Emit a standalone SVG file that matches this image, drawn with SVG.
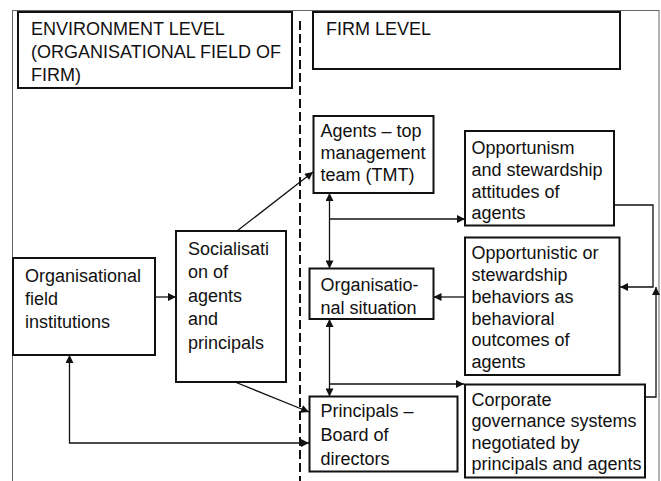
<svg xmlns="http://www.w3.org/2000/svg" width="661" height="481" viewBox="0 0 661 481">
  <style>
    .box { fill: #fff; stroke: #111; stroke-width: 2; }
    .lbl { font-family: "Liberation Sans", Arial, sans-serif; font-size: 18px; fill: #111; }
    .wire { fill: none; stroke: #111; stroke-width: 1.3; }
    .frame { fill: none; stroke: #666; stroke-width: 1; }
    .divider { stroke: #111; stroke-width: 2; stroke-dasharray: 9 4; }
  </style>
  <defs>
    <marker id="arrow" viewBox="0 0 10 10" refX="10" refY="5" markerWidth="10" markerHeight="8" markerUnits="userSpaceOnUse" orient="auto-start-reverse">
      <path d="M0,0 L10,5 L0,10 Z" fill="#111"/>
    </marker>
  </defs>

  <rect width="661" height="481" fill="#fff"/>

  <!-- outer frame -->
  <rect class="frame" x="12.5" y="10.5" width="646.5" height="480"/>

  <!-- level divider -->
  <line class="divider" x1="300" y1="21" x2="300" y2="481"/>

  <g id="environment-level">
    <rect class="box" x="18" y="12" width="274" height="76"/>
    <text class="lbl" x="31" y="35">ENVIRONMENT LEVEL</text>
    <text class="lbl" x="31" y="58">(ORGANISATIONAL FIELD OF</text>
    <text class="lbl" x="31" y="81">FIRM)</text>
  </g>

  <g id="firm-level">
    <rect class="box" x="313" y="12" width="307" height="57"/>
    <text class="lbl" x="326" y="35">FIRM LEVEL</text>
  </g>

  <g id="field-institutions">
    <rect class="box" x="13" y="258" width="142" height="97"/>
    <text class="lbl" x="25" y="282">Organisational</text>
    <text class="lbl" x="25" y="305">field</text>
    <text class="lbl" x="25" y="328">institutions</text>
  </g>

  <g id="socialisation">
    <rect class="box" x="176" y="231" width="110" height="151"/>
    <text class="lbl" x="188" y="254.5">Socialisati</text>
    <text class="lbl" x="188" y="278">on of</text>
    <text class="lbl" x="188" y="301.5">agents</text>
    <text class="lbl" x="188" y="325">and</text>
    <text class="lbl" x="188" y="348.5">principals</text>
  </g>

  <g id="agents">
    <rect class="box" x="313.5" y="116" width="120" height="77"/>
    <text class="lbl" x="320.5" y="137">Agents – top</text>
    <text class="lbl" x="320.5" y="159">management</text>
    <text class="lbl" x="320.5" y="181">team (TMT)</text>
  </g>

  <g id="org-situation">
    <rect class="box" x="309.5" y="268.5" width="124" height="50.5"/>
    <text class="lbl" x="320.5" y="291">Organisatio-</text>
    <text class="lbl" x="320.5" y="314">nal situation</text>
  </g>

  <g id="principals">
    <rect class="box" x="309.5" y="396.5" width="148" height="75"/>
    <text class="lbl" x="320.5" y="417">Principals –</text>
    <text class="lbl" x="320.5" y="441">Board of</text>
    <text class="lbl" x="320.5" y="465">directors</text>
  </g>

  <g id="attitudes">
    <rect class="box" x="465" y="131" width="149" height="94.5"/>
    <text class="lbl" x="471.5" y="154">Opportunism</text>
    <text class="lbl" x="471.5" y="176">and stewardship</text>
    <text class="lbl" x="471.5" y="197.5">attitudes of</text>
    <text class="lbl" x="471.5" y="219">agents</text>
  </g>

  <g id="behaviors">
    <rect class="box" x="465" y="237.5" width="154.5" height="137.5"/>
    <text class="lbl" x="471.5" y="258.5">Opportunistic or</text>
    <text class="lbl" x="471.5" y="280.5">stewardship</text>
    <text class="lbl" x="471.5" y="302.5">behaviors as</text>
    <text class="lbl" x="471.5" y="324.5">behavioral</text>
    <text class="lbl" x="471.5" y="346">outcomes of</text>
    <text class="lbl" x="471.5" y="368">agents</text>
  </g>

  <g id="governance">
    <rect class="box" x="465" y="384.5" width="180" height="93"/>
    <text class="lbl" x="471.5" y="405.5">Corporate</text>
    <text class="lbl" x="471.5" y="427">governance systems</text>
    <text class="lbl" x="471.5" y="448.5">negotiated by</text>
    <text class="lbl" x="471.5" y="470">principals and agents</text>
  </g>

  <g id="connectors">
    <line class="wire" x1="155" y1="297" x2="176" y2="297" marker-end="url(#arrow)"/>
    <line class="wire" x1="237" y1="231" x2="313" y2="172" marker-end="url(#arrow)"/>
    <line class="wire" x1="235" y1="382" x2="309" y2="412" marker-end="url(#arrow)"/>
    <polyline class="wire" points="69.5,355 69.5,443 309,443" marker-start="url(#arrow)" marker-end="url(#arrow)"/>
    <line class="wire" x1="329.5" y1="193" x2="329.5" y2="268.5" marker-start="url(#arrow)" marker-end="url(#arrow)"/>
    <line class="wire" x1="329.5" y1="219" x2="465" y2="219" marker-end="url(#arrow)"/>
    <line class="wire" x1="329.5" y1="319" x2="329.5" y2="396.5" marker-start="url(#arrow)" marker-end="url(#arrow)"/>
    <line class="wire" x1="329.5" y1="384" x2="464" y2="384" marker-end="url(#arrow)"/>
    <line class="wire" x1="465" y1="297" x2="433.5" y2="297" marker-end="url(#arrow)"/>
    <polyline class="wire" points="614,205 653,205 653,287 620,287" marker-end="url(#arrow)"/>
    <polyline class="wire" points="645,397 656,397 656,287" marker-end="url(#arrow)"/>
  </g>
</svg>
